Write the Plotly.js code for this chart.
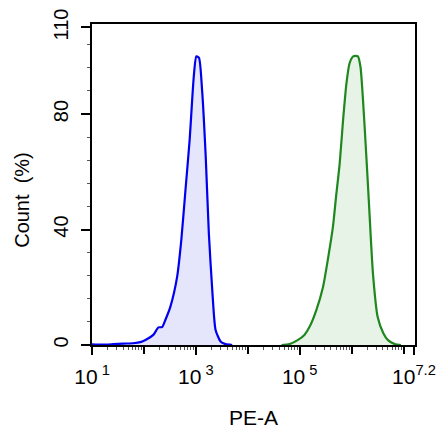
<!DOCTYPE html>
<html>
<head>
<meta charset="utf-8">
<script src="https://cdn.plot.ly/plotly-3.0.1.min.js"></script>
<style>html,body{margin:0;padding:0;background:#fff;}</style>
</head>
<body>
<div id="chart" style="width:443px;height:429px;"></div>
<script>
// PE-A exponents (log10) and Count (%)
var blueExp   = [1.00, 1.20, 1.41, 1.60, 1.79, 1.95, 2.03, 2.18, 2.28, 2.35, 2.42, 2.51, 2.64, 2.72, 2.80, 2.88, 2.96, 3.01, 3.06, 3.12, 3.19, 3.25, 3.32, 3.38, 3.48, 3.57, 3.70];
var blueCount = [0.2, 0.1, 0.3, 0.5, 0.6, 1.1, 1.7, 3.5, 6.1, 6.2, 9.0, 13.3, 23.7, 36.4, 53.7, 71.0, 93.0, 100.0, 99.5, 88.3, 65.2, 38.7, 17.9, 5.2, 1.1, 0.3, 0.0];
var greenExp   = [4.65, 4.80, 4.96, 5.09, 5.19, 5.32, 5.45, 5.54, 5.64, 5.70, 5.77, 5.83, 5.90, 5.96, 6.03, 6.12, 6.17, 6.25, 6.33, 6.41, 6.50, 6.61, 6.70, 6.83, 6.95];
var greenCount = [0.0, 0.3, 1.7, 3.5, 6.3, 12.1, 20.2, 29.4, 41.0, 51.4, 62.9, 76.8, 90.6, 97.6, 100.0, 100.0, 96.4, 75.6, 50.2, 24.8, 9.8, 4.1, 1.7, 0.3, 0.0];
var xLabelExp  = [1, 3, 5, 7.2];
var xLabelText = ['10<sup> 1</sup>', '10<sup> 3</sup>', '10<sup> 5</sup>', '10<sup>7.2</sup>'];
var xDecadeExp = [2, 4, 6, 7];
var yTickVals = [0, 40, 80, 110];
var yTickText = ['0', '40', '80', '110'];
var xTitle = 'PE-A';
var yTitle = 'Count&nbsp;&nbsp;(%)';

function pow10(a){ return a.map(function(e){ return Math.pow(10, e); }); }
var minorX = [];
for (var k = 1; k < 7; k++) { for (var m = 2; m <= 9; m++) { minorX.push(m * Math.pow(10, k)); } }

var font = 'Liberation Sans, Arial, sans-serif';
var traces = [
  {x: pow10(blueExp), y: blueCount, type: 'scatter', mode: 'lines', fill: 'tozeroy',
   line: {color: '#0000ee', width: 2.2, shape: 'spline', smoothing: 0.6}, fillcolor: 'rgba(0,0,230,0.10)', hoverinfo: 'skip'},
  {x: pow10(greenExp), y: greenCount, type: 'scatter', mode: 'lines', fill: 'tozeroy',
   line: {color: '#1e881e', width: 2.2, shape: 'spline', smoothing: 0.6}, fillcolor: 'rgba(30,136,30,0.10)', hoverinfo: 'skip'},
  {x: pow10([xLabelExp[0]]), y: [0], xaxis: 'x2', type: 'scatter', mode: 'lines', hoverinfo: 'skip', line: {width: 0}}
];
var layout = {
  width: 443, height: 429,
  margin: {l: 92, r: 28, t: 24, b: 84},
  paper_bgcolor: '#fff', plot_bgcolor: '#fff',
  showlegend: false,
  font: {family: font, color: '#000', size: 19},
  xaxis: {
    type: 'log', range: [1, 7.22], showgrid: false, zeroline: false,
    showline: true, linewidth: 2, linecolor: '#000', mirror: true,
    ticks: 'outside', ticklen: 8, tickwidth: 2, tickcolor: '#000',
    tickmode: 'array', tickvals: pow10(xLabelExp), ticktext: xLabelText,
    tickfont: {size: 21, family: font}, ticklabelstandoff: 4,
    minor: {tickmode: 'array', tickvals: minorX, ticks: 'outside', ticklen: 3, tickwidth: 1, tickcolor: '#555'},
    title: {text: xTitle, font: {size: 21, family: font}, standoff: 26}
  },
  xaxis2: {
    type: 'log', range: [1, 7.22], overlaying: 'x', anchor: 'y', side: 'bottom',
    showgrid: false, zeroline: false, showline: false, showticklabels: false,
    ticks: 'outside', ticklen: 8, tickwidth: 2, tickcolor: '#000',
    tickmode: 'array', tickvals: pow10(xDecadeExp)
  },
  yaxis: {
    range: [0, 111.2], showgrid: false, zeroline: false,
    showline: true, linewidth: 2, linecolor: '#000', mirror: true,
    ticks: 'outside', ticklen: 9, tickwidth: 2, tickcolor: '#000',
    tickmode: 'array', tickvals: yTickVals, ticktext: yTickText, tickangle: -90,
    tickfont: {size: 20, family: font}, ticklabelstandoff: 5,
    minor: {dtick: 8, tick0: 0, ticks: 'outside', ticklen: 3, tickwidth: 1, tickcolor: '#555'}
  },
  annotations: [
    {text: yTitle, xref: 'paper', yref: 'paper', x: -0.217, y: 0.452, textangle: -90,
     showarrow: false, xanchor: 'center', yanchor: 'middle', font: {size: 20, family: font, color: '#000'}}
  ]
};
Plotly.newPlot('chart', traces, layout, {staticPlot: true, displayModeBar: false});
</script>
</body>
</html>
